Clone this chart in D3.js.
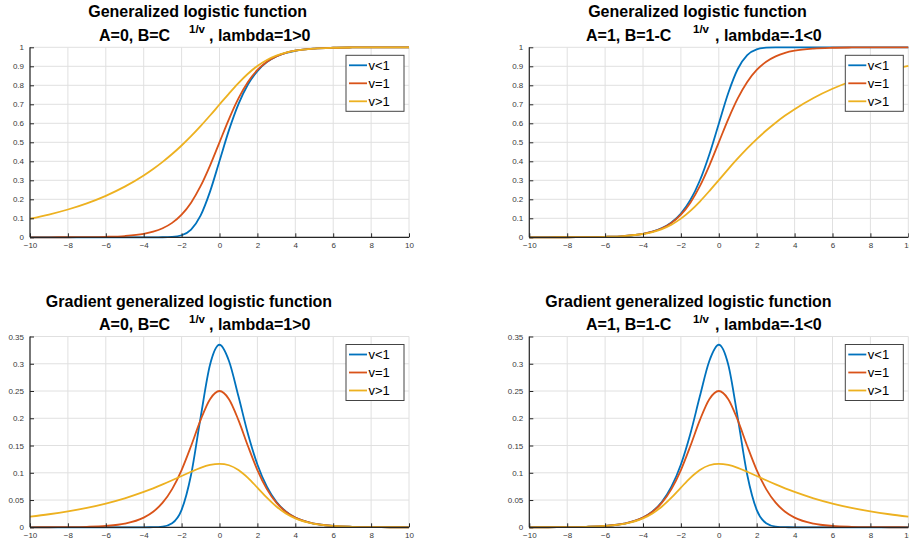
<!DOCTYPE html>
<html>
<head>
<meta charset="utf-8">
<script src="https://cdn.jsdelivr.net/npm/d3@7"></script>
<style>
  body { margin: 0; background: #fff; }
  svg { display: block; }
  text { font-family: "Liberation Sans", Arial, Helvetica, sans-serif; }
</style>
</head>
<body>
<svg id="chart" width="909" height="547"></svg>
<script>
// Sample positions shared by every curve
const xs = [-10, -9, -8, -7, -6, -5, -4, -3.5, -3, -2.5, -2, -1.5, -1, -0.5, 0,
            0.5, 1, 1.5, 2, 2.5, 3, 3.5, 4, 5, 6, 7, 8, 9, 10];

const seriesNames = ["v<1", "v=1", "v>1"];
const seriesColors = ["#0072BD", "#D95319", "#EDB120"];

const xTicks = [-10, -8, -6, -4, -2, 0, 2, 4, 6, 8, 10];
const yTicksLogistic = [0, 0.1, 0.2, 0.3, 0.4, 0.5, 0.6, 0.7, 0.8, 0.9, 1];
const yTicksGradient = [0, 0.05, 0.1, 0.15, 0.2, 0.25, 0.3, 0.35];

// Logistic curves, A=0, lambda=1
const logPosLess = [0, 0, 0, 0, 0, 0, 0.000004, 0.000039, 0.000315, 0.002087, 0.010706, 0.040776, 0.114091, 0.240521, 0.401878,
  0.564128, 0.701187, 0.803888, 0.874996, 0.921806, 0.951667, 0.970343, 0.981883, 0.993289, 0.997525, 0.999089, 0.999665, 0.999877, 0.999955];
const logPosEq = [0.000045, 0.000123, 0.000335, 0.000911, 0.002473, 0.006693, 0.017986, 0.029312, 0.047426, 0.075858, 0.119203, 0.182426, 0.268941, 0.377541, 0.5,
  0.622459, 0.731059, 0.817574, 0.880797, 0.924142, 0.952574, 0.970688, 0.982014, 0.993307, 0.997527, 0.999089, 0.999665, 0.999877, 0.999955];
const logPosMore = [0.098088, 0.119805, 0.146329, 0.178723, 0.218268, 0.26656, 0.325427, 0.359482, 0.39698, 0.438172, 0.483245, 0.532261, 0.585032, 0.64096, 0.698827,
  0.756627, 0.811624, 0.860818, 0.9018, 0.933534, 0.956516, 0.972268, 0.982628, 0.993395, 0.99754, 0.999091, 0.999665, 0.999877, 0.999955];

// Logistic curves, A=1, lambda=-1
const logNegLess = [0.000045, 0.000123, 0.000335, 0.000911, 0.002475, 0.006711, 0.018117, 0.029657, 0.048333, 0.078194, 0.125004, 0.196112, 0.298813, 0.435872, 0.598122,
  0.759479, 0.885909, 0.959224, 0.989294, 0.997913, 0.999685, 0.999961, 0.999996, 1, 1, 1, 1, 1, 1];
const logNegEq = [0.000045, 0.000123, 0.000335, 0.000911, 0.002473, 0.006693, 0.017986, 0.029312, 0.047426, 0.075858, 0.119203, 0.182426, 0.268941, 0.377541, 0.5,
  0.622459, 0.731059, 0.817574, 0.880797, 0.924142, 0.952574, 0.970688, 0.982014, 0.993307, 0.997527, 0.999089, 0.999665, 0.999877, 0.999955];
const logNegMore = [0.000045, 0.000123, 0.000335, 0.000909, 0.00246, 0.006605, 0.017372, 0.027732, 0.043484, 0.066466, 0.0982, 0.139182, 0.188376, 0.243373, 0.301173,
  0.35904, 0.414968, 0.467739, 0.516755, 0.561828, 0.60302, 0.640518, 0.674573, 0.73344, 0.781732, 0.821277, 0.853671, 0.880195, 0.901912];

// Gradients, A=0, lambda=1
const gradPosLess = [0, 0, 0, 0, 0, 0, 0.000019, 0.000169, 0.00126, 0.007398, 0.031926, 0.09637, 0.200906, 0.29822, 0.334898,
  0.305145, 0.240274, 0.171709, 0.115297, 0.074444, 0.046913, 0.029126, 0.017918, 0.006684, 0.002471, 0.000911, 0.000335, 0.000123, 0.000045];
const gradPosEq = [0.000045, 0.000123, 0.000335, 0.00091, 0.002467, 0.006648, 0.017663, 0.028453, 0.045177, 0.070104, 0.104994, 0.149146, 0.196612, 0.235004, 0.25,
  0.235004, 0.196612, 0.149146, 0.104994, 0.070104, 0.045177, 0.028453, 0.017663, 0.006648, 0.002467, 0.00091, 0.000335, 0.000123, 0.000045];
const gradPosMore = [0.019614, 0.02396, 0.029264, 0.035738, 0.043632, 0.05324, 0.064848, 0.071466, 0.078613, 0.086219, 0.094102, 0.101905, 0.108988, 0.114324, 0.116471,
  0.113801, 0.105156, 0.090787, 0.07279, 0.054331, 0.03813, 0.025508, 0.016488, 0.006475, 0.002442, 0.000907, 0.000335, 0.000123, 0.000045];

// Gradients, A=1, lambda=-1
const gradNegLess = [0.000045, 0.000123, 0.000335, 0.000911, 0.002471, 0.006684, 0.017918, 0.029126, 0.046913, 0.074444, 0.115297, 0.171709, 0.240274, 0.305145, 0.334898,
  0.29822, 0.200906, 0.09637, 0.031926, 0.007398, 0.00126, 0.000169, 0.000019, 0, 0, 0, 0, 0, 0];
const gradNegEq = [0.000045, 0.000123, 0.000335, 0.00091, 0.002467, 0.006648, 0.017663, 0.028453, 0.045177, 0.070104, 0.104994, 0.149146, 0.196612, 0.235004, 0.25,
  0.235004, 0.196612, 0.149146, 0.104994, 0.070104, 0.045177, 0.028453, 0.017663, 0.006648, 0.002467, 0.00091, 0.000335, 0.000123, 0.000045];
const gradNegMore = [0.000045, 0.000123, 0.000335, 0.000907, 0.002442, 0.006475, 0.016488, 0.025508, 0.03813, 0.054331, 0.07279, 0.090787, 0.105156, 0.113801, 0.116471,
  0.114324, 0.108988, 0.101905, 0.094102, 0.086219, 0.078613, 0.071466, 0.064848, 0.05324, 0.043632, 0.035738, 0.029264, 0.02396, 0.019614];

const svg = d3.select("#chart");

const panels = [
  { left: 30, right: 409, top: 47.3, bottom: 237.3, yMax: 1, yTicks: yTicksLogistic,
    series: [logPosLess, logPosEq, logPosMore],
    title1: "Generalized logistic function", t1x: 197.6, t1y: 16.6,
    base: "A=0, B=C", tail: ", lambda=1>0", bx: 99, sx: 189, tx: 209, t2y: 40.7 },
  { left: 529.3, right: 908.3, top: 47.3, bottom: 237.3, yMax: 1, yTicks: yTicksLogistic,
    series: [logNegLess, logNegEq, logNegMore],
    title1: "Generalized logistic function", t1x: 697.5, t1y: 16.6,
    base: "A=1, B=1-C", tail: ", lambda=-1<0", bx: 586, sx: 693, tx: 715, t2y: 40.7 },
  { left: 30, right: 409, top: 336.5, bottom: 527.3, yMax: 0.35, yTicks: yTicksGradient,
    series: [gradPosLess, gradPosEq, gradPosMore],
    title1: "Gradient generalized logistic function", t1x: 189, t1y: 306.6,
    base: "A=0, B=C", tail: ", lambda=1>0", bx: 99, sx: 189, tx: 209, t2y: 330 },
  { left: 529.3, right: 908.3, top: 336.5, bottom: 527.3, yMax: 0.35, yTicks: yTicksGradient,
    series: [gradNegLess, gradNegEq, gradNegMore],
    title1: "Gradient generalized logistic function", t1x: 688.5, t1y: 306.6,
    base: "A=1, B=1-C", tail: ", lambda=-1<0", bx: 586, sx: 693, tx: 715, t2y: 330 }
];

const axisColor = "#262626";
const gridColor = "#e0e0e0";

panels.forEach(p => {
  const x = d3.scaleLinear().domain([-10, 10]).range([p.left, p.right]);
  const y = d3.scaleLinear().domain([0, p.yMax]).range([p.bottom, p.top]);
  const g = svg.append("g");

  // grid
  g.append("g").selectAll("line").data(xTicks).join("line")
    .attr("x1", d => x(d)).attr("x2", d => x(d))
    .attr("y1", p.top).attr("y2", p.bottom)
    .attr("stroke", gridColor).attr("stroke-width", 1);
  g.append("g").selectAll("line").data(p.yTicks).join("line")
    .attr("x1", p.left).attr("x2", p.right)
    .attr("y1", d => y(d)).attr("y2", d => y(d))
    .attr("stroke", gridColor).attr("stroke-width", 1);

  // curves
  const line = d3.line().x((d, i) => x(xs[i])).y(d => y(d)).curve(d3.curveMonotoneX);
  p.series.forEach((vals, k) => {
    g.append("path").datum(vals)
      .attr("d", line)
      .attr("fill", "none")
      .attr("stroke", seriesColors[k])
      .attr("stroke-width", 1.8)
      .attr("stroke-linejoin", "round");
  });

  // axes with inward ticks
  const xAxis = d3.axisBottom(x).tickValues(xTicks).tickSize(-4).tickPadding(5.4)
    .tickFormat(d3.format("d"));
  const yAxis = d3.axisLeft(y).tickValues(p.yTicks).tickSize(-4).tickPadding(6)
    .tickFormat(d => d === 0 ? "0" : String(d));
  const ax = g.append("g").attr("transform", `translate(0,${p.bottom})`).call(xAxis);
  const ay = g.append("g").attr("transform", `translate(${p.left},0)`).call(yAxis);
  [ax, ay].forEach(a => {
    a.select(".domain").attr("stroke", axisColor).attr("stroke-width", 1.2);
    a.selectAll(".tick line").attr("stroke", axisColor).attr("stroke-width", 1);
    a.selectAll(".tick text").attr("fill", "#3a3a3a")
      .style("font-size", "8px").style("font-family", "\"Liberation Sans\", Arial, sans-serif");
  });
  ax.select(".domain").attr("d", `M${p.left},0H${p.right}`);
  ay.select(".domain").attr("d", `M0,${p.bottom}V${p.top}`);

  // legend
  const lw = 58, lh = 56;
  const lx = p.right - 63, ly = p.top + 8;
  const leg = g.append("g").attr("transform", `translate(${lx},${ly})`);
  leg.append("rect").attr("width", lw).attr("height", lh)
    .attr("fill", "#fff").attr("stroke", "#444").attr("stroke-width", 1);
  seriesNames.forEach((name, k) => {
    const cy = 10 + k * 18;
    leg.append("line").attr("x1", 3).attr("x2", 21).attr("y1", cy).attr("y2", cy)
      .attr("stroke", seriesColors[k]).attr("stroke-width", 1.8);
    leg.append("text").attr("x", 22.5).attr("y", cy).attr("dy", "0.36em")
      .attr("font-size", 13).attr("fill", "#000").text(name);
  });

  // title
  g.append("text").attr("x", p.t1x).attr("y", p.t1y).attr("text-anchor", "middle")
    .attr("font-size", 16).attr("font-weight", "bold").attr("fill", "#000").text(p.title1);
  g.append("text").attr("x", p.bx).attr("y", p.t2y)
    .attr("font-size", 16).attr("font-weight", "bold").attr("fill", "#000").text(p.base);
  g.append("text").attr("x", p.sx).attr("y", p.t2y - 7.5)
    .attr("font-size", 11.5).attr("font-weight", "bold").attr("fill", "#000").text("1/v");
  g.append("text").attr("x", p.tx).attr("y", p.t2y)
    .attr("font-size", 16).attr("font-weight", "bold").attr("fill", "#000").text(p.tail);
});
</script>
</body>
</html>
